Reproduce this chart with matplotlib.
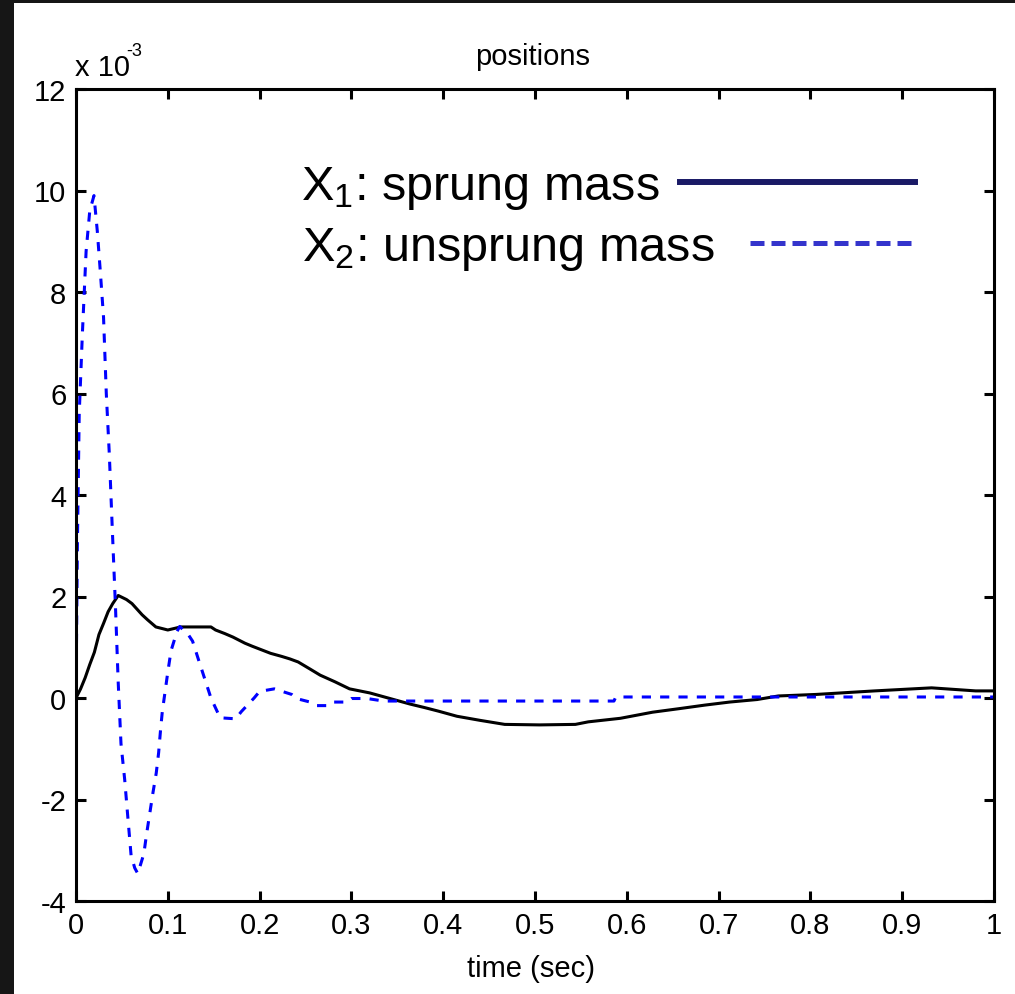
import matplotlib
matplotlib.use('Agg')
import matplotlib.pyplot as plt
from matplotlib.lines import Line2D
from matplotlib.patches import Rectangle

# fonts: narrow sans for the axis text if present, regular for the legend overlay
plt.rcParams['font.family'] = ['Liberation Sans Narrow', 'Liberation Sans', 'DejaVu Sans']
plt.rcParams['mathtext.fontset'] = 'custom'
plt.rcParams['mathtext.rm'] = 'Liberation Sans'
plt.rcParams['mathtext.it'] = 'Liberation Sans'
plt.rcParams['axes.unicode_minus'] = False

# data (positions in units of 1e-3)
t_sprung = [0, 0.005, 0.01, 0.015, 0.02, 0.025, 0.03, 0.035, 0.04, 0.046, 0.055, 0.061,
            0.067, 0.072, 0.078, 0.087, 0.1, 0.114, 0.147, 0.152, 0.162, 0.171, 0.184,
            0.192, 0.202, 0.212, 0.224, 0.233, 0.242, 0.255, 0.266, 0.282, 0.298, 0.32,
            0.334, 0.348, 0.364, 0.38, 0.395, 0.415, 0.44, 0.467, 0.505, 0.544, 0.558,
            0.593, 0.628, 0.657, 0.685, 0.712, 0.742, 0.765, 0.806, 0.87, 0.932, 0.98, 1.0]
x1_sprung = [0, 0.18, 0.40, 0.66, 0.90, 1.25, 1.47, 1.70, 1.86, 2.02, 1.94, 1.86,
             1.74, 1.64, 1.54, 1.40, 1.34, 1.40, 1.40, 1.34, 1.27, 1.20, 1.08,
             1.02, 0.95, 0.88, 0.82, 0.77, 0.71, 0.57, 0.45, 0.32, 0.18, 0.10,
             0.03, -0.04, -0.12, -0.19, -0.26, -0.36, -0.44, -0.52, -0.53, -0.52, -0.47,
             -0.40, -0.28, -0.21, -0.14, -0.08, -0.03, 0.04, 0.07, 0.14, 0.20, 0.14, 0.14]

t_unsprung = [0, 0.0015, 0.0035, 0.007, 0.011, 0.015, 0.0196, 0.0232, 0.0265, 0.030,
              0.033, 0.0363, 0.0396, 0.043, 0.046, 0.049, 0.053, 0.0567, 0.060, 0.064,
              0.0673, 0.0739, 0.0768, 0.0804, 0.0837, 0.0874, 0.090, 0.092, 0.094, 0.097,
              0.100, 0.1035, 0.110, 0.113, 0.123, 0.127, 0.133, 0.140, 0.147, 0.157,
              0.174, 0.180, 0.194, 0.200, 0.216, 0.235, 0.240, 0.255, 0.262, 0.274,
              0.279, 0.295, 0.300, 0.317, 0.335, 0.586, 0.588, 1.0]
x2_unsprung = [0, 3.0, 5.6, 7.2, 8.8, 9.6, 9.9, 9.2, 8.4, 7.5,
               6.0, 4.8, 3.3, 1.8, 0.3, -0.9, -1.6, -2.4, -3.1, -3.35,
               -3.46, -3.07, -2.69, -2.27, -1.88, -1.48, -1.08, -0.65, -0.27, 0.12,
               0.51, 0.93, 1.31, 1.41, 1.23, 1.12, 0.78, 0.39, 0.0, -0.39,
               -0.41, -0.27, 0.0, 0.13, 0.18, 0.07, -0.01, -0.08, -0.15, -0.15,
               -0.08, -0.08, -0.01, -0.01, -0.06, -0.06, 0.02, 0.02]

xticks = [0, 0.1, 0.2, 0.3, 0.4, 0.5, 0.6, 0.7, 0.8, 0.9, 1]
xtick_labels = ['0', '0.1', '0.2', '0.3', '0.4', '0.5', '0.6', '0.7', '0.8', '0.9', '1']
yticks = [-4, -2, 0, 2, 4, 6, 8, 10, 12]

legend_labels = ['X$_1$: sprung mass', 'X$_2$: unsprung mass']

W, H = 1015, 995
fig = plt.figure(figsize=(W / 100, H / 100), dpi=100, facecolor='#161616')
# white slide panel on top of the dark background
fig.add_artist(Rectangle((14 / W, 0), 1, 1 - 4 / H, transform=fig.transFigure,
                         facecolor='white', edgecolor='none', zorder=-10))

ax = fig.add_axes([76 / W, 1 - 902 / H, 918 / W, 812 / H])
ax.plot(t_sprung, x1_sprung, color='black', lw=2.2)
ax.plot(t_unsprung, x2_unsprung, color='#0000ff', lw=2.2, dashes=(3, 3))

ax.set_xlim(0, 1)
ax.set_ylim(-4, 12)
ax.set_xticks(xticks)
ax.set_xticklabels(xtick_labels)
ax.set_yticks(yticks)
ax.tick_params(direction='in', length=7.2, width=2.2, top=True, right=True,
               labelsize=21, pad=7)
for sp in ax.spines.values():
    sp.set_linewidth(2.2)

ax.text(0.497, 1 + 25 / 812, 'positions', transform=ax.transAxes,
        ha='center', va='baseline', fontsize=21)
ax.text(0.496, -75 / 812, 'time (sec)', transform=ax.transAxes,
        ha='center', va='baseline', fontsize=21)
# multiplier note, exponent as a separate raised text so it keeps a plain hyphen
ax.text(-1 / 918, 1 + 14 / 812, 'x 10', transform=ax.transAxes,
        ha='left', va='baseline', fontsize=21)
ax.text(50 / 918, 1 + 34 / 812, '-3', transform=ax.transAxes,
        ha='left', va='baseline', fontsize=13)

# legend overlay, one entry per legend so the keys line up on the right
leg_font = {'family': 'Liberation Sans', 'size': 35}
h1 = Line2D([], [], color='#1a1a66', lw=4.3)
h2 = Line2D([], [], color='#3434cc', lw=3.6, dashes=(2.8, 1.4))
leg1 = ax.legend([h1], [legend_labels[0]], loc='center right', bbox_to_anchor=(0.914, 0.879),
                 frameon=False, markerfirst=False, handlelength=4.84, handletextpad=0.41,
                 borderpad=0, borderaxespad=0, prop=leg_font)
ax.add_artist(leg1)
ax.legend([h2], [legend_labels[1]], loc='center right', bbox_to_anchor=(0.914, 0.803),
          frameon=False, markerfirst=False, handlelength=3.4, handletextpad=0.72,
          borderpad=0, borderaxespad=0, prop=leg_font)

fig.savefig('out.png', dpi=100, facecolor=fig.get_facecolor())
